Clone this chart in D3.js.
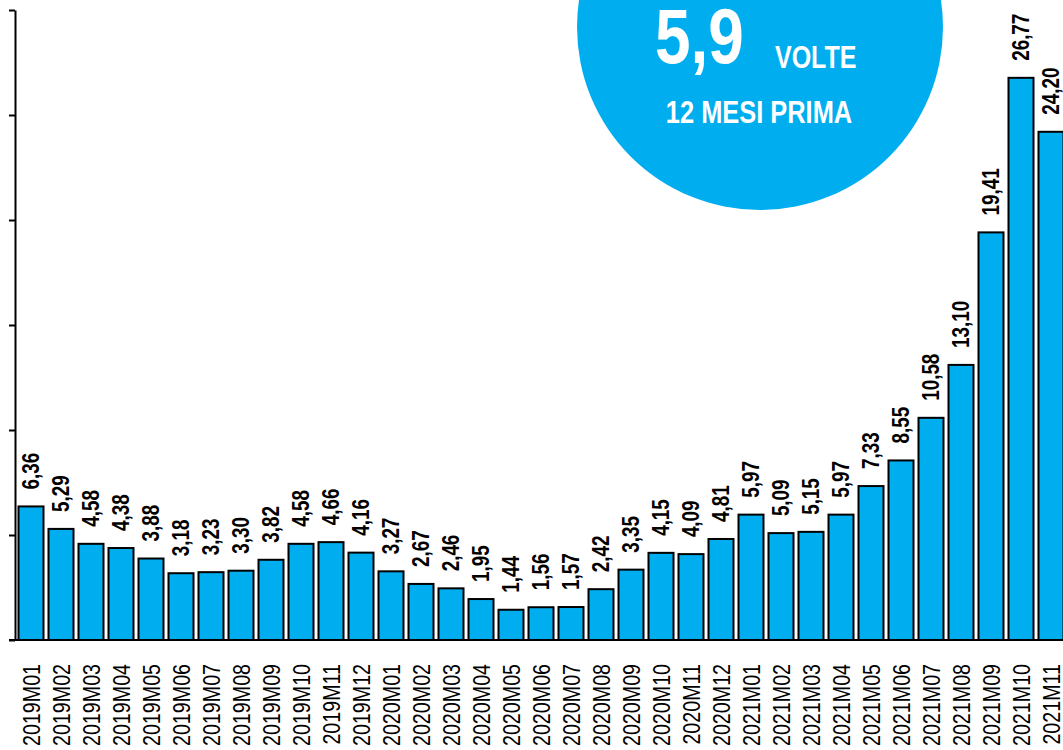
<!DOCTYPE html>
<html><head><meta charset="utf-8">
<script src="https://cdn.jsdelivr.net/npm/d3@7"></script>
<style>
html,body{margin:0;padding:0;background:#fff;}
svg{display:block;}
</style></head>
<body>
<svg id="chart" width="1063" height="750"></svg>
<script>
const categories = ["2019M01","2019M02","2019M03","2019M04","2019M05","2019M06","2019M07","2019M08","2019M09","2019M10","2019M11","2019M12",
"2020M01","2020M02","2020M03","2020M04","2020M05","2020M06","2020M07","2020M08","2020M09","2020M10","2020M11","2020M12",
"2021M01","2021M02","2021M03","2021M04","2021M05","2021M06","2021M07","2021M08","2021M09","2021M10","2021M11"];
const values = [6.36,5.29,4.58,4.38,3.88,3.18,3.23,3.30,3.82,4.58,4.66,4.16,
3.27,2.67,2.46,1.95,1.44,1.56,1.57,2.42,3.35,4.15,4.09,4.81,
5.97,5.09,5.15,5.97,7.33,8.55,10.58,13.10,19.41,26.77,24.20];
const yTicks = [0,5,10,15,20,25,30];
const bigNumber = "5,9";
const bigUnit = "VOLTE";
const subText = "12 MESI PRIMA";

const BLUE = "#00AEEF";
const FONT = "'Liberation Sans',Arial,sans-serif";
const SX = 0.82; // horizontal compression to mimic a narrow face
const svg = d3.select("#chart");

const x = d3.scaleBand().domain(categories).range([16, 1066]).paddingInner(5/30).paddingOuter(2.5/30);
const y = d3.scaleLinear().domain([0, 30]).range([640, 10]);
const fmt = v => d3.format(".2f")(v).replace(".", ",");

// callout circle (behind bars)
svg.append("circle").attr("cx", 760).attr("cy", 27).attr("r", 183).attr("fill", BLUE);
function narrowText(tx, ty, size, txt, anchor) {
  svg.append("text").attr("transform", `translate(${tx},${ty}) scale(${SX},1)`)
    .attr("text-anchor", anchor || "start").attr("fill", "#fff")
    .style("font-family", FONT).style("font-weight", "bold").style("font-size", size + "px").text(txt);
}
narrowText(655, 63, 78, bigNumber);
narrowText(775, 68, 30.5, bigUnit);
narrowText(759, 123, 31, subText, "middle");

// bars
svg.append("g").selectAll("rect").data(values).join("rect")
  .attr("x", (d, i) => x(categories[i]))
  .attr("width", x.bandwidth())
  .attr("y", d => y(d))
  .attr("height", d => y(0) - y(d))
  .attr("fill", BLUE).attr("stroke", "#000").attr("stroke-width", 2);

// value labels
svg.append("g").selectAll("text").data(values).join("text")
  .attr("transform", (d, i) => `translate(${x(categories[i]) + x.bandwidth()/2},${y(d) - 17}) rotate(-90) scale(${SX},1)`)
  .attr("dy", "0.36em")
  .style("font-family", FONT).style("font-weight", "bold").style("font-size", "23px")
  .attr("fill", "#000")
  .text(d => fmt(d));

// y axis
const yAxis = svg.append("g").attr("transform", "translate(15,0)")
  .call(d3.axisLeft(y).tickValues(yTicks).tickSize(6).tickSizeOuter(0).tickFormat(""));
yAxis.selectAll("path,line").attr("stroke", "#000").attr("stroke-width", 2);

// baseline
svg.append("line").attr("x1", 9).attr("x2", 1063).attr("y1", y(0)).attr("y2", y(0))
  .attr("stroke", "#000").attr("stroke-width", 2);

// category labels
const xAxis = svg.append("g").attr("transform", `translate(0,${y(0)})`)
  .call(d3.axisBottom(x).tickSize(0).tickSizeOuter(0));
xAxis.select(".domain").remove();
xAxis.selectAll("text")
  .attr("transform", `rotate(-90) scale(${SX},1)`)
  .attr("x", -24 / SX).attr("y", 0).attr("dy", "0.36em")
  .attr("text-anchor", "end")
  .style("font-family", FONT).style("font-size", "24px").attr("fill", "#000");
</script>
</body></html>
